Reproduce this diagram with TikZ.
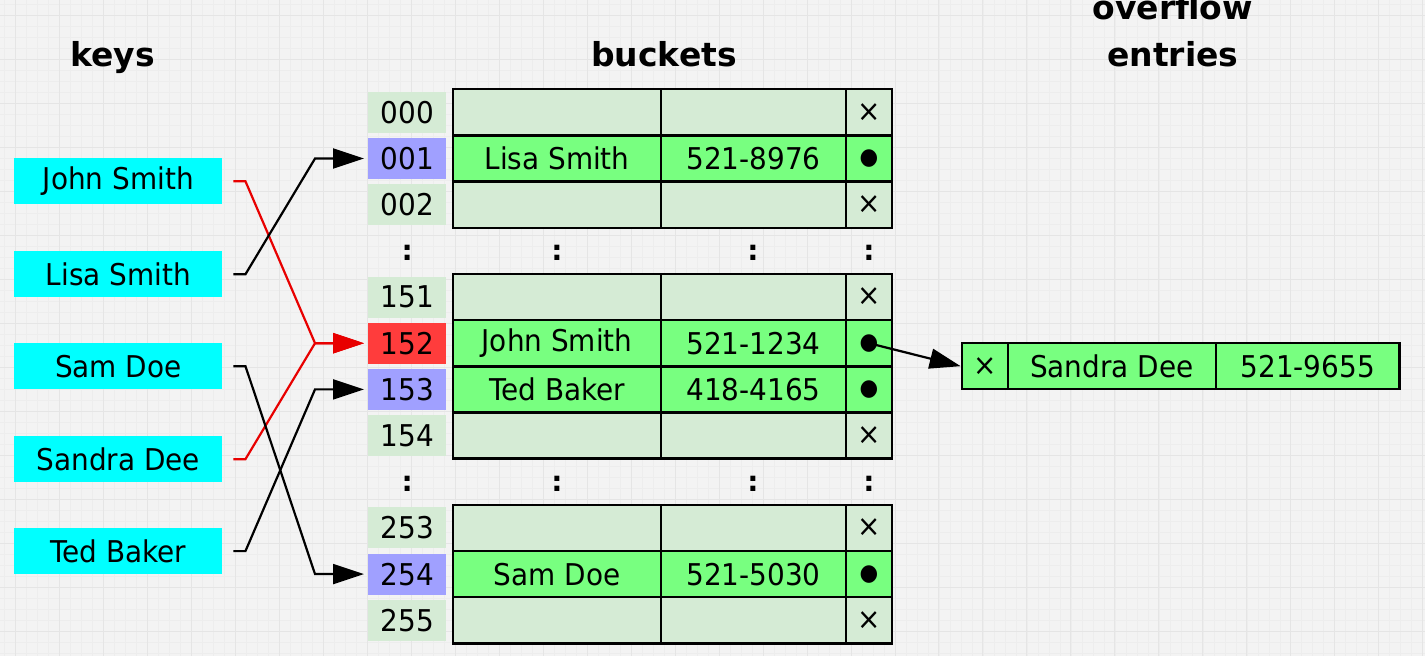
\documentclass[tikz,border=0pt]{standalone}
\usepackage{fontspec}
\setmainfont{DejaVu Sans}
\newfontfamily\cellfont[FakeStretch=0.93]{DejaVu Sans}
\usetikzlibrary{arrows.meta}
\definecolor{bgc}{HTML}{F3F3F3}
\definecolor{gridmaj}{HTML}{E5E5E5}
\definecolor{gridmin}{HTML}{EDEDED}
\definecolor{keyc}{HTML}{00FFFF}
\definecolor{lightg}{HTML}{D5EBD5}
\definecolor{brightg}{HTML}{78FF80}
\definecolor{idxp}{HTML}{A0A0FF}
\definecolor{idxr}{HTML}{FF3C3C}
\definecolor{redl}{HTML}{E80000}
\tikzset{
  txt/.style={font=\cellfont\fontsize{30}{36}\selectfont, inner sep=0pt, text=black},
  hdr/.style={font=\fontsize{33}{40}\selectfont\bfseries, inner sep=0pt, anchor=base},
  keybox/.style={txt, fill=keyc, minimum width=208pt, minimum height=46pt},
  idxbox/.style={txt, minimum width=78pt, minimum height=41pt},
  tcell/.style={txt, draw=black, line width=2.4pt, minimum height=46.2pt},
  namecell/.style={tcell, minimum width=208pt},
  phonecell/.style={tcell, minimum width=185pt},
  ptrcell/.style={tcell, minimum width=46pt},
  colon/.style={font=\fontsize{28}{34}\selectfont\bfseries, inner sep=0pt},
  conn/.style={line width=2.2pt, line join=miter, -{Triangle[length=31pt,width=20pt]}},
}
\newcommand{\dotmark}{{\fontsize{23}{28}\selectfont ●}}
\newcommand{\nilmark}{×}
\begin{document}
\begin{tikzpicture}[x=1pt,y=-1pt]
\fill[bgc] (0,0) rectangle (1425,656);
\foreach \gx in {4,15,...,1425} \draw[gridmin, line width=0.4pt] (\gx,0) -- (\gx,656);
\foreach \gy in {4,15,...,656} \draw[gridmin, line width=0.4pt] (0,\gy) -- (1425,\gy);
\foreach \gx in {15,59,...,1425} \draw[gridmaj, line width=0.8pt] (\gx,0) -- (\gx,656);
\foreach \gy in {15,59,...,656} \draw[gridmaj, line width=0.8pt] (0,\gy) -- (1425,\gy);
\useasboundingbox (0,0) rectangle (1425,656);

% headers
\node[hdr] (hkeys) at (112,66) {keys};
\node[hdr] (hbuckets) at (664,66) {buckets};
\node[hdr] (hover) at (1173,19) {overflow};
\node[hdr] (hentries) at (1173,66) {entries};

% keys
\node[keybox] (john) at (118,181) {John Smith};
\node[keybox] (lisa) at (118,274) {Lisa Smith};
\node[keybox] (sam) at (118,366) {Sam Doe};
\node[keybox] (sandra) at (118,459) {Sandra Dee};
\node[keybox] (ted) at (118,551) {Ted Baker};

% bucket rows
\foreach \i/\lab/\ic/\nm/\ph/\fl/\pt in {
  0/000/lightg///lightg/\nilmark,
  1/001/idxp/Lisa Smith/521-8976/brightg/\dotmark,
  2/002/lightg///lightg/\nilmark,
  4/151/lightg///lightg/\nilmark,
  5/152/idxr/John Smith/521-1234/brightg/\dotmark,
  6/153/idxp/Ted Baker/418-4165/brightg/\dotmark,
  7/154/lightg///lightg/\nilmark,
  9/253/lightg///lightg/\nilmark,
  10/254/idxp/Sam Doe/521-5030/brightg/\dotmark,
  11/255/lightg///lightg/\nilmark}{
  \pgfmathsetmacro\yy{112+46.2*\i}
  \node[idxbox, fill=\ic] (idx\i) at (407,\yy) {\lab};
  \node[namecell, fill=\fl] (nm\i) at (557,\yy) {\nm};
  \node[phonecell, fill=\fl] (ph\i) at (753.5,\yy) {\ph};
  \node[ptrcell, fill=\fl] (pt\i) at (869,\yy) {\pt};
}

% colons
\foreach \i in {3,8}{
  \pgfmathsetmacro\yy{112+46.2*\i+2}
  \node[colon] (ca\i) at (407,\yy) {:};
  \node[colon] (cb\i) at (557,\yy) {:};
  \node[colon] (cc\i) at (753,\yy) {:};
  \node[colon] (cd\i) at (869,\yy) {:};
}

% overflow entry
\node[ptrcell, fill=brightg] (ovx) at (985,366) {\nilmark};
\node[namecell, fill=brightg] (ovn) at (1112,366) {Sandra Dee};
\node[tcell, minimum width=184pt, fill=brightg] (ovp) at (1308,366) {521-9655};

% connectors
\draw[conn, draw=redl] ([xshift=11pt]john.east) -- ++(12,0) -- ([xshift=-53pt]idx5.west) -- ([xshift=-4pt]idx5.west);
\draw[conn, draw=redl] ([xshift=11pt]sandra.east) -- ++(12,0) -- ([xshift=-53pt]idx5.west) -- ([xshift=-4pt]idx5.west);
\draw[conn] ([xshift=11pt]lisa.east) -- ++(12,0) -- ([xshift=-53pt]idx1.west) -- ([xshift=-4pt]idx1.west);
\draw[conn] ([xshift=11pt]sam.east) -- ++(12,0) -- ([xshift=-53pt]idx10.west) -- ([xshift=-4pt]idx10.west);
\draw[conn] ([xshift=11pt]ted.east) -- ++(12,0) -- ([xshift=-53pt]idx6.west) -- ([xshift=-4pt]idx6.west);
\draw[conn] (pt5.center) -- (ovx.west);
\end{tikzpicture}
\end{document}
